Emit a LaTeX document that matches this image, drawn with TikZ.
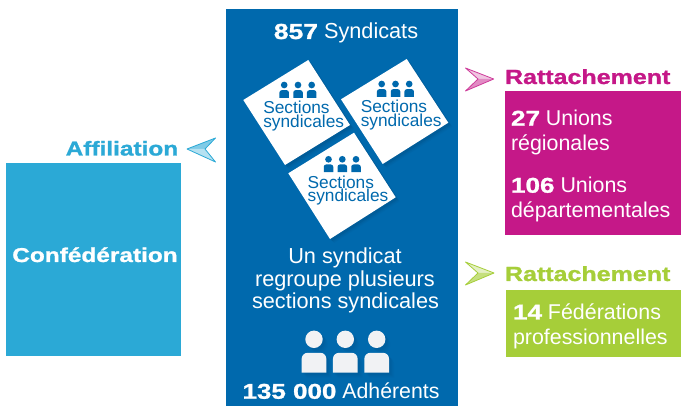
\documentclass[tikz,border=0pt]{standalone}
\usepackage{fontspec}
\setmainfont{Liberation Sans}
\newfontfamily\blk[FakeStretch=1.22,FakeBold=1.2]{Liberation Sans Bold}
\definecolor{mainblue}{HTML}{0069AD}
\definecolor{deepblue}{HTML}{004F85}
\definecolor{cyanbox}{HTML}{2BA9D6}
\definecolor{magbox}{HTML}{C51888}
\definecolor{greenbox}{HTML}{A6CE39}
\definecolor{offw}{HTML}{F1F2F4}
\tikzset{
  lbl/.style={anchor=base west,inner sep=0pt,outer sep=0pt,text=white,font=\fontsize{21.4}{24}\selectfont},
  ctr/.style={anchor=base,inner sep=0pt,outer sep=0pt,text=white,font=\fontsize{21.7}{24}\selectfont},
  head/.style={anchor=base west,inner sep=0pt,outer sep=0pt,font=\fontsize{20.5}{24}\blk},
  sect/.style={anchor=base west,align=left,inner sep=0pt,outer sep=0pt,text=mainblue,font=\fontsize{17.3}{13.5}\selectfont},
}
\newcommand{\person}[4]{% x, y(head centre), scale, colour
  \fill[#4] (#1,#2) circle ({3.35*#3});
  \fill[#4] ({#1-4.75*#3},{#2+12.8*#3}) -- ({#1-4.75*#3},{#2+7.5*#3})
     arc[start angle=180,end angle=270,radius={2.3*#3}] -- ({#1+2.45*#3},{#2+5.2*#3})
     arc[start angle=270,end angle=360,radius={2.3*#3}] -- ({#1+4.75*#3},{#2+12.8*#3}) -- cycle;
}
\newcommand{\sectcard}[6]{% four corners + cx + head y
  \foreach \o/\op in {4/.10,3/.15,2/.30}{
    \fill[deepblue,opacity=\op,shift={(\o,\o)}] (#1) -- (#2) -- (#3) -- (#4) -- cycle;}
  \fill[white] (#1) -- (#2) -- (#3) -- (#4) -- cycle;
  \person{#5-13.8}{#6}{1}{mainblue}
  \person{#5}{#6}{1}{mainblue}
  \person{#5+13.7}{#6}{1}{mainblue}
  \node[sect] at (#5-34.7,#6+42.5) {Sections\\syndicales};
}
\newcommand{\chevron}[7]{% top, tip, bottom, notch, line colour, upper fill, lower fill
  \fill[#6] (#1) -- (#2) -- (#4) -- cycle;
  \fill[#7] (#3) -- (#2) -- (#4) -- cycle;
  \draw[#5,line width=.8pt,line join=round] (#1) -- (#2) -- (#3) -- (#4) -- cycle;
}
\begin{document}
\begin{tikzpicture}[x=1pt,y=-1pt]
\useasboundingbox (0,0) rectangle (681,406);
\fill[white] (0,0) rectangle (681,406);
% boxes
\fill[mainblue] (226,9) rectangle (458,406);
\fill[cyanbox] (6,163) rectangle (181,356);
\fill[magbox] (505,91) rectangle (681,235);
\fill[greenbox] (506,290) rectangle (681,357);
% cards
\sectcard{243.3,100}{308.3,60}{350,125}{285,165}{298}{85}
\sectcard{341,99.3}{406.7,59}{448.3,122.7}{382.7,164}{395.5}{84}
\sectcard{288.3,173.3}{354,132.7}{395.7,197.3}{330,239}{342.3}{159.3}
% centre text
\node[ctr] (syn) at (346,39) {{\blk 857} Syndicats};
\node[ctr] (un1) at (345,263.7) {Un syndicat};
\node[ctr] (un2) at (345,286.2) {regroupe plusieurs};
\node[ctr] (un3) at (345.5,308.7) {sections syndicales};
\node[ctr,font=\fontsize{21.3}{24}\selectfont] (adh) at (341,398.7) {{\blk 135 000} Adhérents};
% people
\foreach \o/\op in {5/.06,4/.08,3/.1,2/.12}{
  \begin{scope}[shift={(\o,\o)},opacity=\op]
    \person{314}{339.3}{2.6}{deepblue}
    \person{345.3}{339.3}{2.6}{deepblue}
    \person{376.7}{339.3}{2.6}{deepblue}
  \end{scope}
}
\person{314}{339.3}{2.6}{offw}
\person{345.3}{339.3}{2.6}{offw}
\person{376.7}{339.3}{2.6}{offw}
% left
\node[anchor=base west,inner sep=0pt,text=cyanbox,font=\fontsize{20}{24}\blk] (aff) at (65.5,155.5) {Affiliation};
\node[anchor=base,inner sep=0pt,text=white,font=\fontsize{20}{24}\blk] (conf) at (95,262) {Confédération};
% right
\node[head,text=magbox] (rat1) at (505,84) {Rattachement};
\node[lbl] (u1) at (511,125.7) {{\blk 27} Unions};
\node[lbl] (u2) at (511,150.7) {régionales};
\node[lbl] (u3) at (511,192.7) {{\blk 106} Unions};
\node[lbl] (u4) at (511,218) {départementales};
\node[head,text=greenbox] (rat2) at (505,281) {Rattachement};
\node[lbl] (f1) at (513,319.5) {{\blk 14} Fédérations};
\node[lbl] (f2) at (513,345) {professionnelles};
% chevrons
\chevron{465.5,68}{493.7,79}{465.5,91}{478,79}{magbox!85!white}{magbox!25!white}{magbox!50!white}
\chevron{465.5,262}{494,273}{465.5,285}{478,273}{greenbox}{greenbox!30!white}{greenbox!65!white}
\chevron{215.5,138}{187,149}{215.5,162}{205,149}{cyanbox}{cyanbox!60!white}{cyanbox!35!white}
\end{tikzpicture}
\end{document}
